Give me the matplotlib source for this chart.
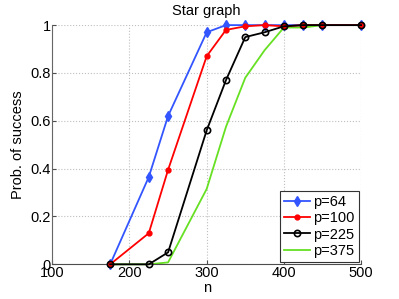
import matplotlib

matplotlib.use("Agg")
import matplotlib.pyplot as plt  # noqa: E402

plt.rcParams["font.family"] = ["Liberation Sans", "DejaVu Sans"]

n = [175, 225, 250, 300, 325, 350, 375, 400, 425, 450, 500]
p64 = [0.0, 0.365, 0.62, 0.97, 1.0, 1.0, 1.0, 1.0, 1.0, 1.0, 1.0]
p100 = [0.0, 0.13, 0.395, 0.87, 0.98, 0.995, 1.0, 0.995, 1.0, 1.0, 1.0]
p225 = [0.0, 0.0, 0.05, 0.56, 0.77, 0.95, 0.97, 0.995, 1.0, 1.0, 1.0]
p375 = [0.0, 0.0, 0.008, 0.315, 0.575, 0.78, 0.895, 0.99, 0.99, 1.0, 1.0]

xticks = [100, 200, 300, 400, 500]
yticks = [0, 0.2, 0.4, 0.6, 0.8, 1]

fig = plt.figure(figsize=(3.99, 2.99), dpi=100)
ax = fig.add_axes([0.131, 0.116, 0.774, 0.80])

ax.plot(n, p64, linestyle="-", marker="d", color="#3355ff", lw=1.3, ms=5,
        label="p=64", clip_on=False, zorder=3)
ax.plot(n, p100, linestyle="-", marker=".", color="#ff0000", lw=1.3, ms=7,
        label="p=100", clip_on=False, zorder=3)
ax.plot(n, p225, linestyle="-", marker="o", color="black", lw=1.3, ms=4.5,
        mfc="none", mew=1.2, label="p=225", clip_on=False, zorder=3)
ax.plot(n, p375, linestyle="-", color="#66e022", lw=1.3, label="p=375",
        clip_on=False, zorder=2)

ax.set_xlim(100, 500)
ax.set_ylim(0, 1)
ax.set_xticks(xticks)
ax.set_yticks(yticks)
ax.set_yticklabels(["0", "0.2", "0.4", "0.6", "0.8", "1"])
ax.grid(True, linestyle=":", color="0.75", lw=0.8)
ax.set_axisbelow(True)
for side in ("top", "right"):
    ax.spines[side].set_visible(False)
ax.spines["left"].set_color("0.4")
ax.spines["bottom"].set_color("0.3")
ax.tick_params(direction="in", length=3, labelsize=10.5, pad=1, color="0.3")

ax.set_xlabel("n", fontsize=10.5, labelpad=1)
ax.set_ylabel("Prob. of success", fontsize=10.5, labelpad=4)
ax.set_title("Star graph", fontsize=10.5, pad=7)

leg = ax.legend(loc="lower right", fontsize=10.5, handlelength=1.8,
                handletextpad=0.2, labelspacing=0.15, borderpad=0.3,
                borderaxespad=0.15, fancybox=False, framealpha=1)
leg.get_frame().set_edgecolor("0.2")
leg.get_frame().set_linewidth(0.8)

fig.savefig("out.png", dpi=100)
